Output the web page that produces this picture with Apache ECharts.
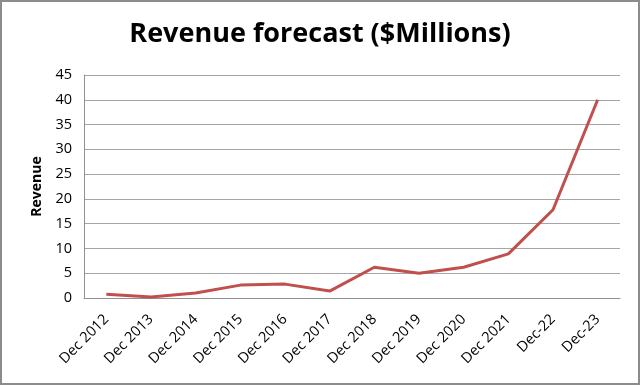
<!DOCTYPE html>
<html><head><meta charset="utf-8">
<script src="https://cdn.jsdelivr.net/npm/echarts@6/dist/echarts.min.js"></script>
<style>html,body{margin:0;padding:0;background:#fff}#c{width:640px;height:385px;box-sizing:border-box;border:2px solid #8c8c8c}</style>
</head><body><div id="c"></div>
<script>
const categories = ['Dec 2012','Dec 2013','Dec 2014','Dec 2015','Dec 2016','Dec 2017','Dec 2018','Dec 2019','Dec 2020','Dec 2021','Dec-22','Dec-23'];
const revenue = [0.75, 0.2, 1.0, 2.6, 2.8, 1.4, 6.2, 5.0, 6.2, 8.9, 17.8, 40];
const titleText = 'Revenue forecast ($Millions)';
const yAxisName = 'Revenue';

const chart = echarts.init(document.getElementById('c'), null, {renderer:'canvas'});
chart.setOption({
  animation:false,
  backgroundColor:'#fff',
  title:{text:titleText,left:'center',top:14,textStyle:{fontFamily:'Open Sans',fontWeight:'bold',fontSize:27,color:'#000'}},
  grid:{left:82,right:18,top:73,bottom:85},
  xAxis:{type:'category',data:categories,boundaryGap:true,
    axisLine:{lineStyle:{color:'#909090'}},axisTick:{show:false},
    axisLabel:{rotate:45,fontFamily:'Open Sans',fontSize:14.5,color:'#000',margin:19,interval:0}},
  yAxis:{type:'value',min:0,max:45,interval:5,name:yAxisName,nameLocation:'middle',nameGap:40,
    nameTextStyle:{fontFamily:'Open Sans',fontWeight:'bold',fontSize:14,color:'#000'},
    axisLine:{show:true,lineStyle:{color:'#909090'}},axisTick:{show:false},
    axisLabel:{fontFamily:'Open Sans',fontSize:14.5,color:'#000',margin:12},
    splitLine:{lineStyle:{color:'#a6a6a6',width:1}}},
  series:[{type:'line',data:revenue,symbol:'none',lineStyle:{color:'#c0504d',width:3},itemStyle:{color:'#c0504d'}}]
});
</script></body></html>
